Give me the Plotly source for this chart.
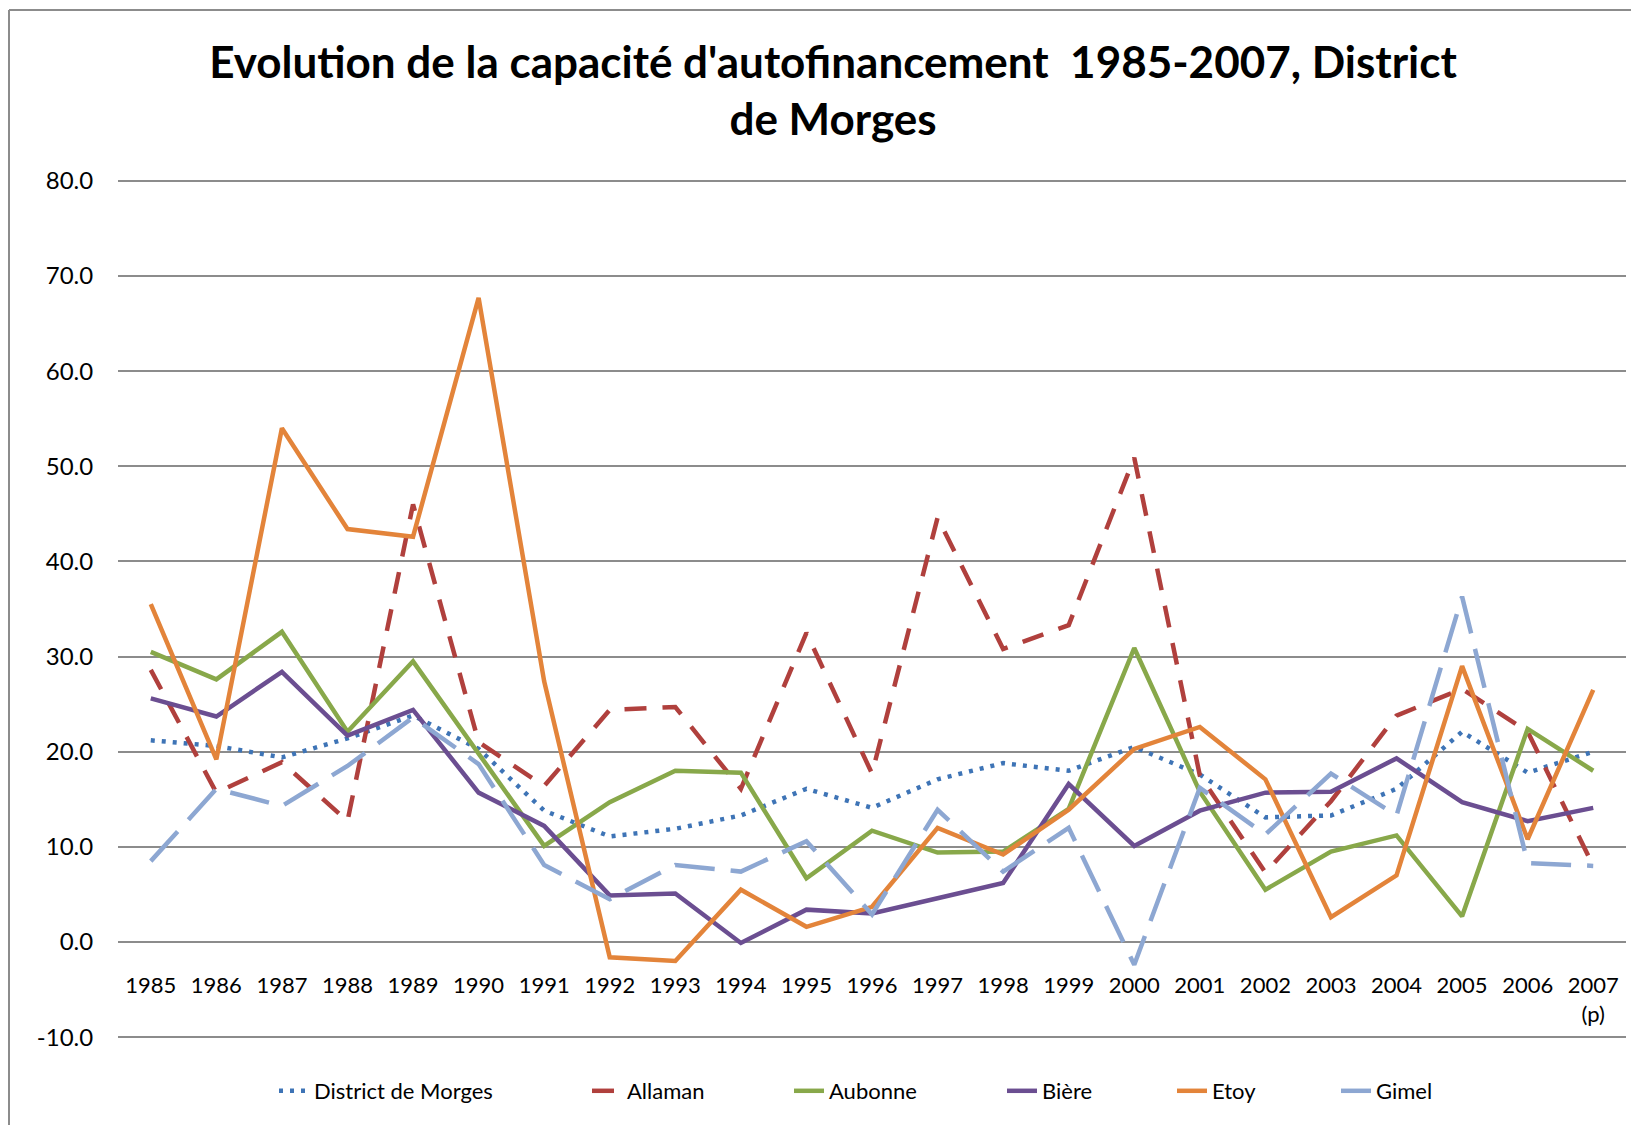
import plotly.graph_objects as go

years = ["1985","1986","1987","1988","1989","1990","1991","1992","1993","1994","1995",
         "1996","1997","1998","1999","2000","2001","2002","2003","2004","2005","2006","2007<br>(p)"]

district = [21.2,20.6,19.4,21.4,23.8,20.3,13.8,11.1,11.9,13.3,16.1,14.1,17.1,18.8,18.0,20.5,17.6,13.1,13.3,16.1,22.1,17.8,20.0]
allaman  = [28.6,15.7,18.9,12.7,46.0,21.0,16.4,24.4,24.7,16.1,32.5,17.7,44.6,30.8,33.3,50.9,17.5,7.3,14.8,23.8,26.6,22.1,8.0]
aubonne  = [30.5,27.6,32.6,22.1,29.5,19.8,10.1,14.7,18.0,17.8,6.7,11.7,9.4,9.5,14.0,30.9,15.8,5.5,9.5,11.2,2.7,22.4,18.0]
biere    = [25.6,23.7,28.4,21.7,24.4,15.7,12.2,4.9,5.1,-0.1,3.4,3.0,4.6,6.2,16.6,10.1,13.8,15.7,15.8,19.3,14.7,12.7,14.1]
etoy     = [35.5,19.2,54.0,43.4,42.6,67.7,27.4,-1.6,-2.0,5.5,1.6,3.7,12.0,9.2,13.9,20.3,22.6,17.1,2.6,7.0,29.0,10.8,26.5]
gimel    = [8.5,16.1,14.3,18.5,23.6,18.7,8.1,4.5,8.1,7.4,10.6,2.9,13.9,7.4,12.0,-2.4,16.2,11.3,17.7,13.3,36.3,8.3,8.0]

y_ticks = [-10, 0, 10, 20, 30, 40, 50, 60, 70, 80]
y_tick_labels = [f"{v:.1f}" for v in y_ticks]

series = [
    ("District de Morges", district, "#3E74B6", "4px,7px"),
    ("Allaman", allaman, "#B0403D", "22px,16px"),
    ("Aubonne", aubonne, "#88A84A", "solid"),
    ("Bière", biere, "#6B4E91", "solid"),
    ("Etoy", etoy, "#E3843A", "solid"),
    ("Gimel", gimel, "#8DA7D2", "40px,16px"),
]

font_family = "Lato, 'Open Sans', sans-serif"

W, H = 1639, 1125
L, R, T, B = 110, 21, 170, 93
pw, ph = W - L - R, H - T - B
y0, y1 = -10.3, 80.3

def px_to_paper_y(py):
    return (H - B - py) / ph

def px_to_paper_x(px):
    return (px - L) / pw

# legend text start positions (px)
legend_text_x = [308, 621, 823, 1036, 1206, 1370]
legend_y_px = 1083

fig = go.Figure()
for i, (name, vals, col, dash) in enumerate(series):
    lg = "legend" if i == 0 else f"legend{i+1}"
    fig.add_trace(go.Scatter(x=years, y=vals, name=name, mode="lines",
                             legend=lg,
                             line=dict(color=col, width=4.5, dash=dash)))

legends = {}
for i, tx in enumerate(legend_text_x):
    key = "legend" if i == 0 else f"legend{i+1}"
    legends[key] = dict(orientation="h", x=px_to_paper_x(tx - 42), xanchor="left",
                        y=px_to_paper_y(legend_y_px), yanchor="middle",
                        font=dict(family=font_family, size=22, color="black"),
                        bgcolor="rgba(0,0,0,0)", borderwidth=0)

fig.update_layout(
    width=W, height=H, autosize=False,
    paper_bgcolor="white", plot_bgcolor="white",
    margin=dict(l=L, r=R, t=T, b=B, autoexpand=False),
    font=dict(family=font_family, size=22, color="black"),
    title=dict(
        text="<b>Evolution de la capacité d'autofinancement  1985-2007, District<br>de Morges</b>",
        x=825 / W, xanchor="center", xref="container",
        y=1 - 70 / H, yanchor="top", yref="container",
        font=dict(family=font_family, size=44, color="black"),
    ),
    showlegend=True,
    xaxis=dict(
        type="category", range=[-0.5, 22.5],
        showgrid=False, zeroline=False, showline=False,
        ticks="outside", ticklen=24, tickcolor="rgba(0,0,0,0)",
        anchor="free", position=(0 - y0) / (y1 - y0),
        tickangle=0, tickfont=dict(size=22),
    ),
    yaxis=dict(
        range=[y0, y1], tickvals=y_ticks, ticktext=y_tick_labels,
        showgrid=True, gridcolor="#8C8C8C", gridwidth=2,
        zeroline=False, showline=False,
        ticks="outside", ticklen=19, tickcolor="rgba(0,0,0,0)",
        tickfont=dict(size=24),
    ),
    **legends,
)

# outer chart border (left and top edges visible)
fig.add_shape(type="line", xref="paper", yref="paper",
              x0=px_to_paper_x(1), x1=px_to_paper_x(W + 5), y0=px_to_paper_y(2), y1=px_to_paper_y(2),
              line=dict(color="#8C8C8C", width=2))
fig.add_shape(type="line", xref="paper", yref="paper",
              x0=px_to_paper_x(1), x1=px_to_paper_x(1), y0=px_to_paper_y(2), y1=px_to_paper_y(H + 5),
              line=dict(color="#8C8C8C", width=2))

fig.write_html("out.html")
